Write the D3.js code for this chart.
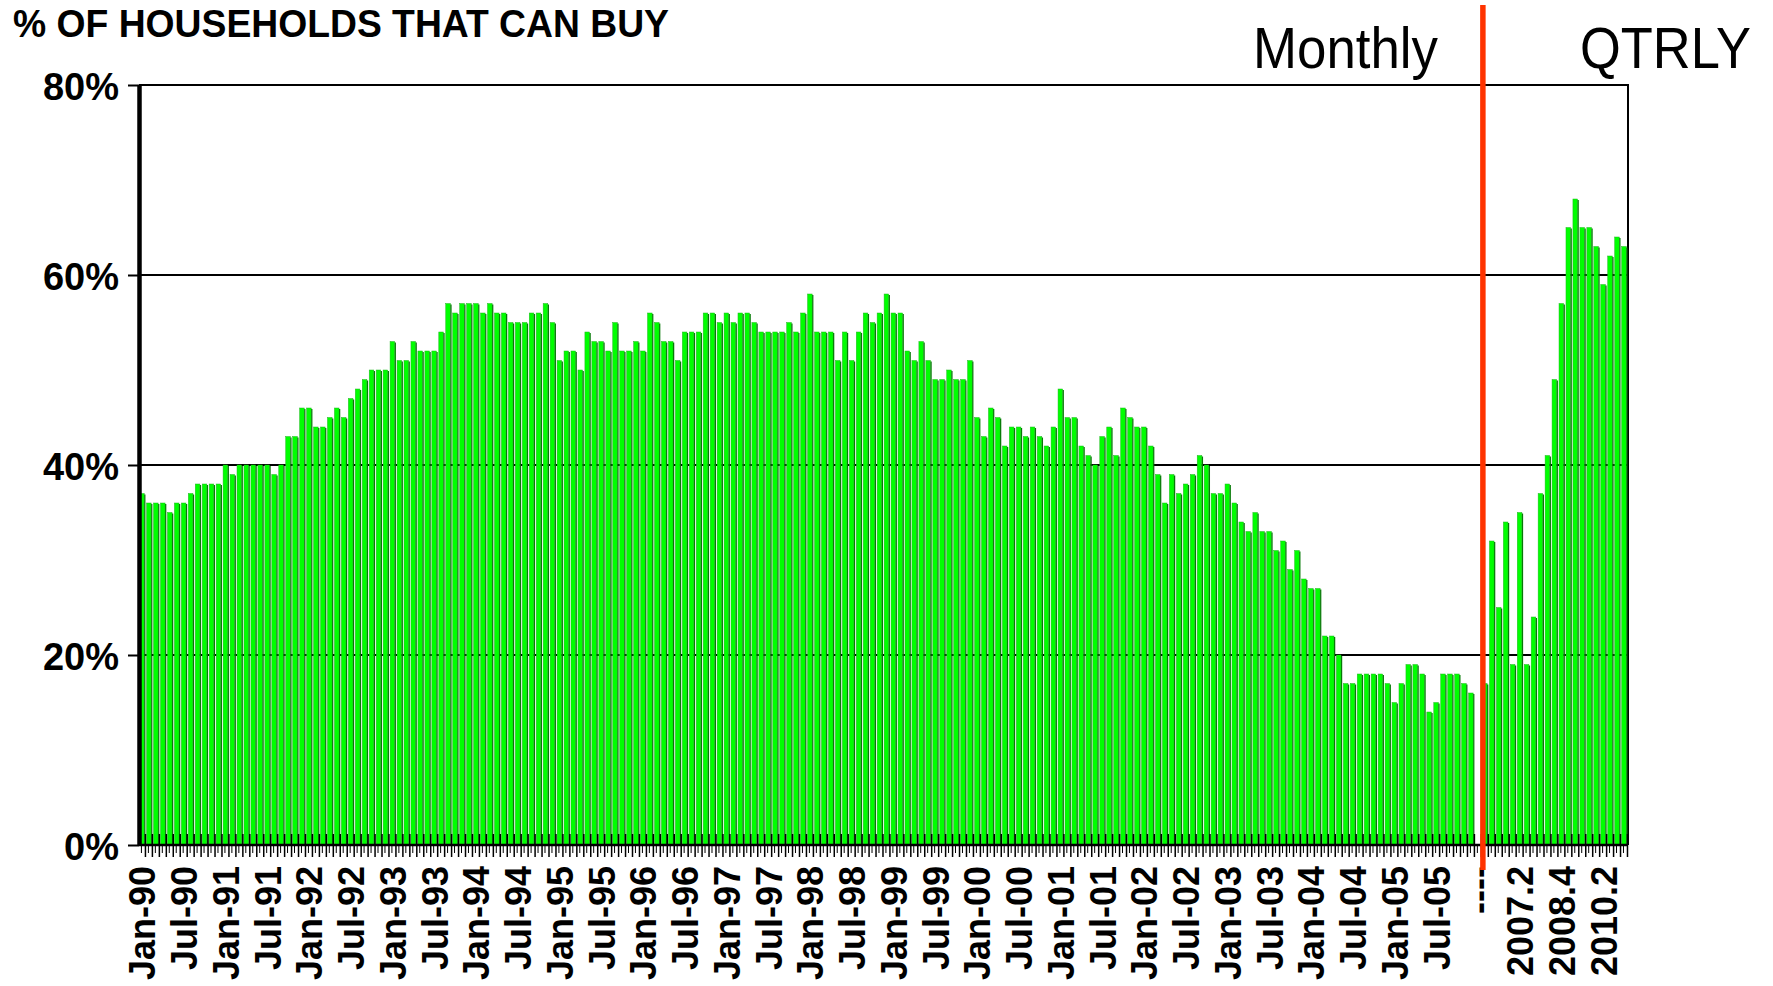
<!DOCTYPE html>
<html>
<head>
<meta charset="utf-8">
<script src="https://cdn.jsdelivr.net/npm/d3@7"></script>
<style>
  body { margin: 0; background: #fff; }
  svg { display: block; font-family: "Liberation Sans", Arial, sans-serif; }
</style>
</head>
<body>
<div class="chart"></div>
<script>
// month / year pieces used to build the monthly category keys
const monthNames = ["Jan","Feb","Mar","Apr","May","Jun","Jul","Aug","Sep","Oct","Nov","Dec"];
const monthYears = ["90","91","92","93","94","95","96","97","98","99","00","01","02","03","04","05"];
const separator = "----";
const quarterKeys = ["2006.1","2006.2","2006.3","2006.4","2007.1","2007.2","2007.3","2007.4",
  "2008.1","2008.2","2008.3","2008.4","2009.1","2009.2","2009.3","2009.4",
  "2010.1","2010.2","2010.3","2010.4","2011.1"];

// % of households that can buy, monthly Jan-90 .. Dec-05
const monthlyValues = [
  37,36,36,36,35,36,36,37,38,38,38,38,
  40,39,40,40,40,40,40,39,40,43,43,46,
  46,44,44,45,46,45,47,48,49,50,50,50,
  53,51,51,53,52,52,52,54,57,56,57,57,
  57,56,57,56,56,55,55,55,56,56,57,55,
  51,52,52,50,54,53,53,52,55,52,52,53,
  52,56,55,53,53,51,54,54,54,56,56,55,
  56,55,56,56,55,54,54,54,54,55,54,56,
  58,54,54,54,51,54,51,54,56,55,56,58,
  56,56,52,51,53,51,49,49,50,49,49,51,
  45,43,46,45,42,44,44,43,44,43,42,44,
  48,45,45,42,41,40,43,44,41,46,45,44,
  44,42,39,36,39,37,38,39,41,40,37,37,
  38,36,34,33,35,33,33,31,32,29,31,28,
  27,27,22,22,20,17,17,18,18,18,18,17,
  15,17,19,19,18,14,15,18,18,18,17,16
];
// quarterly 2006.1 .. 2011.1
const quarterlyValues = [17,32,25,34,19,35,19,24,37,41,49,57,65,68,65,65,63,59,62,64,63];

const tickLabels = ["Jan-90","Jul-90","Jan-91","Jul-91","Jan-92","Jul-92","Jan-93","Jul-93",
  "Jan-94","Jul-94","Jan-95","Jul-95","Jan-96","Jul-96","Jan-97","Jul-97","Jan-98","Jul-98",
  "Jan-99","Jul-99","Jan-00","Jul-00","Jan-01","Jul-01","Jan-02","Jul-02","Jan-03","Jul-03",
  "Jan-04","Jul-04","Jan-05","Jul-05","----","2007.2","2008.4","2010.2"];
const yTicks = [0, 20, 40, 60, 80];

const W = 1773, H = 986;
const plotLeft = 139, plotRight = 1628, plotTop = 85, plotBottom = 845;

let monthKeys = [];
monthYears.forEach(yy => monthNames.forEach(m => monthKeys.push(m + "-" + yy)));
const categories = monthKeys.concat([separator], quarterKeys);

let data = monthKeys.map((k, i) => ({ key: k, value: monthlyValues[i] }))
  .concat(quarterKeys.map((k, i) => ({ key: k, value: quarterlyValues[i] })));

const svg = d3.select(".chart").append("svg")
  .attr("width", W).attr("height", H);

svg.append("rect").attr("width", W).attr("height", H).attr("fill", "#fff");

const x = d3.scaleBand().domain(categories).range([plotLeft, plotRight]).padding(0);
const y = d3.scaleLinear().domain([0, 80]).range([plotBottom, plotTop]);
const bw = x.step();

// grid lines + frame (behind bars)
svg.append("g").selectAll("line")
  .data([20, 40, 60, 80])
  .enter().append("line")
    .attr("x1", plotLeft).attr("x2", plotRight)
    .attr("y1", d => y(d)).attr("y2", d => y(d))
    .attr("stroke", "#000").attr("stroke-width", 2.2);
svg.append("line")
  .attr("x1", plotRight).attr("x2", plotRight)
  .attr("y1", y(80) - 1).attr("y2", y(0))
  .attr("stroke", "#000").attr("stroke-width", 2);

// bars: bright face + dark green side
const bars = svg.append("g").selectAll("g")
  .data(data)
  .enter().append("g");
bars.append("rect")
  .attr("x", d => x(d.key) + 0.6)
  .attr("y", d => y(d.value))
  .attr("width", bw * 0.66)
  .attr("height", d => y(0) - y(d.value))
  .attr("fill", "#00ff00")
  .attr("stroke", "#22b822")
  .attr("stroke-width", 0.5);
bars.append("rect")
  .attr("x", d => x(d.key) + 0.6 + bw * 0.66)
  .attr("y", d => y(d.value) + 1)
  .attr("width", bw * 0.18)
  .attr("height", d => y(0) - y(d.value) - 1)
  .attr("fill", "#067a06");

// bottom tick marks: crossing ticks at band edges, short ones mid band
svg.append("g").selectAll("line")
  .data(categories)
  .enter().append("line")
    .attr("x1", d => x(d) + 0.6 + bw * 0.84).attr("x2", d => x(d) + 0.6 + bw * 0.84)
    .attr("y1", y(0) - 11).attr("y2", y(0) + 12)
    .attr("stroke", "#000").attr("stroke-width", 1.5);
svg.append("g").selectAll("line")
  .data(categories)
  .enter().append("line")
    .attr("x1", d => x(d) + bw * 0.35).attr("x2", d => x(d) + bw * 0.35)
    .attr("y1", y(0)).attr("y2", y(0) + 8)
    .attr("stroke", "#000").attr("stroke-width", 1);

// x axis labels
const xAxis = svg.append("g")
  .attr("transform", "translate(0," + y(0) + ")")
  .call(d3.axisBottom(x).tickValues(tickLabels).tickSize(0).tickSizeOuter(0));
xAxis.select(".domain").remove();
xAxis.selectAll("text")
  .attr("transform", "rotate(-90)")
  .attr("x", -21)
  .attr("y", 0)
  .attr("dy", "0.36em")
  .style("text-anchor", "end")
  .style("font-family", "'Liberation Sans', Arial, sans-serif")
  .style("font-weight", "bold")
  .style("font-size", "36px")
  .attr("fill", "#000");

// baseline
svg.append("line")
  .attr("x1", plotLeft).attr("x2", plotRight)
  .attr("y1", y(0)).attr("y2", y(0))
  .attr("stroke", "#000").attr("stroke-width", 2.5);

// y axis
const yAxis = svg.append("g")
  .attr("transform", "translate(" + plotLeft + ",0)")
  .call(d3.axisLeft(y).tickValues(yTicks).tickFormat(d => d + "%").tickSize(11).tickSizeOuter(0).tickPadding(9));
yAxis.select(".domain").attr("stroke-width", 4.5);
yAxis.selectAll(".tick line").attr("stroke-width", 2);
yAxis.selectAll("text")
  .style("font-family", "'Liberation Sans', Arial, sans-serif")
  .style("font-weight", "bold")
  .style("font-size", "38px")
  .attr("dy", "0.38em")
  .attr("fill", "#000");

// red divider between monthly and quarterly data
const redX = x(quarterKeys[0]) + 1;
svg.append("line")
  .attr("x1", redX).attr("x2", redX)
  .attr("y1", 5).attr("y2", 870)
  .attr("stroke", "#ff3300").attr("stroke-width", 5.5);

// titles
svg.append("text")
  .attr("x", 13).attr("y", 37)
  .style("font-weight", "bold").style("font-size", "39px")
  .attr("textLength", 656).attr("lengthAdjust", "spacingAndGlyphs")
  .text("% OF HOUSEHOLDS THAT CAN BUY");
svg.append("text")
  .attr("x", 1253).attr("y", 68)
  .style("font-size", "57px")
  .attr("textLength", 185).attr("lengthAdjust", "spacingAndGlyphs")
  .text("Monthly");
svg.append("text")
  .attr("x", 1580).attr("y", 68)
  .style("font-size", "57px")
  .attr("textLength", 171).attr("lengthAdjust", "spacingAndGlyphs")
  .text("QTRLY");
</script>
</body>
</html>
